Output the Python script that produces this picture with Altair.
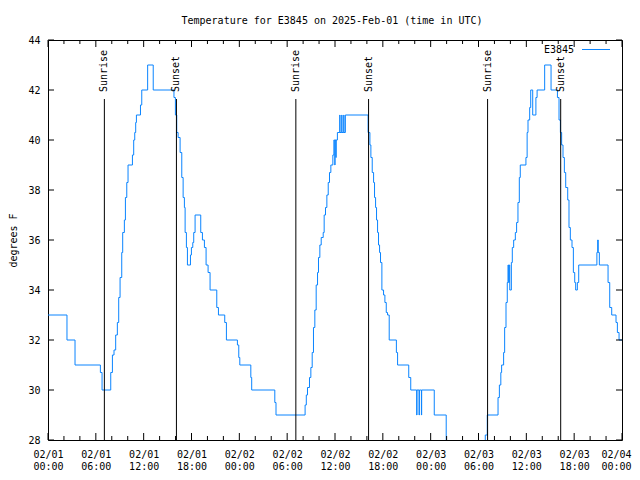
import altair as alt
import pandas as pd

# Temperature trace: hours after 2025-02-01 00:00 UTC and the reading (deg F) from that moment on
hours_day1 = [0.0, 2.38, 3.39, 6.57, 6.78, 7.87, 8.08, 8.28, 8.49, 8.70,
              8.87, 9.04, 9.25, 9.37, 9.58, 9.71, 9.88, 10.04, 10.59, 10.75,
              10.88, 11.00, 11.09, 11.60, 11.76, 12.50, 13.20, 15.80, 15.98, 16.15,
              16.32, 16.57, 16.78, 16.95, 17.11, 17.20, 17.36, 17.49, 17.87, 17.99,
              18.16, 18.28, 18.45, 19.16, 19.37, 19.62, 19.83, 20.08, 20.33, 21.17,
              21.38, 22.17, 22.38, 23.76, 23.93, 24.06, 25.44, 25.55, 28.45, 28.60]
temps_day1 = [33, 32, 31, 30.7, 30, 30.7, 31.4, 31.6, 32.2, 32.7,
              33.7, 34.5, 35.5, 36.3, 36.8, 37.7, 38.3, 39.0, 39.4, 40.0,
              40.3, 40.7, 41.0, 41.4, 42.0, 43.0, 42.0, 41.7, 41.0, 40.3,
              40.1, 39.5, 38.5, 37.7, 37.3, 36.3, 35.7, 35.0, 35.4, 35.7,
              35.9, 36.3, 37.0, 36.3, 36.0, 35.7, 35.0, 34.7, 34.0, 33.3,
              33.0, 32.7, 32.0, 31.8, 31.3, 31.0, 30.5, 30.0, 29.5, 29.0]

hours_day2 = [32.25, 32.40, 32.55, 32.80, 32.97, 33.14, 33.30, 33.47, 33.64, 33.81,
              33.93, 34.10, 34.27, 34.52, 34.64, 34.81, 34.98, 35.15, 35.31, 35.48,
              35.73, 35.86, 35.98, 36.00, 36.12, 36.14, 36.30, 36.60, 36.62, 36.85,
              36.87, 37.10, 37.12, 37.30, 40.15, 40.38, 40.50, 40.67, 40.84, 40.96,
              41.09, 41.21, 41.34, 41.46, 41.59, 41.71, 41.88, 42.09, 42.26, 42.43,
              42.59, 42.80, 43.70, 43.85, 45.25, 45.50, 46.25, 46.28, 46.55, 46.58,
              46.84, 46.87, 48.45, 49.95, 54.85, 55.10]
temps_day2 = [29.4, 29.8, 30.1, 30.5, 30.9, 31.5, 32.5, 33.2, 34.2, 34.7,
              35.3, 35.8, 36.1, 36.3, 37.0, 37.3, 37.8, 38.3, 38.7, 39.0,
              39.4, 40.0, 39.0, 40.0, 39.3, 40.0, 40.3, 41.0, 40.3, 41.0,
              40.3, 41.0, 40.3, 41.0, 40.3, 39.8, 39.3, 38.7, 38.3, 37.7,
              37.3, 36.8, 36.3, 35.8, 35.5, 35.1, 34.0, 33.8, 33.5, 33.1,
              33.0, 32.0, 31.5, 31.0, 30.5, 30.0, 29.0, 30.0, 29.0, 30.0,
              29.0, 30.0, 29.0, 27.5, 28.2, 29.0]

hours_day3 = [56.45, 56.62, 56.80, 56.90, 57.15, 57.28, 57.45, 57.61, 57.70, 57.78,
              57.85, 57.92, 58.12, 58.24, 58.41, 58.62, 58.78, 58.95, 59.12, 59.24,
              59.95, 60.10, 60.21, 60.42, 60.55, 60.80, 61.20, 61.35, 62.30, 63.10,
              63.90, 64.10, 64.27, 64.43, 64.60, 64.77, 64.94, 65.19, 65.35, 65.52,
              65.73, 65.90, 66.07, 66.19, 66.40, 66.57, 68.85, 68.95, 69.02, 69.16,
              70.25, 70.46, 70.71, 71.25, 71.42, 71.63, 72.00]
temps_day3 = [29.7, 30.2, 30.7, 31.0, 31.5, 32.5, 33.5, 34.3, 35.0, 34.3,
              35.0, 34.0, 35.1, 35.7, 36.0, 36.3, 36.7, 37.5, 38.5, 39.0,
              39.3, 40.3, 40.8, 41.3, 42.0, 41.0, 41.7, 42.0, 43.0, 42.0,
              41.7, 40.8, 40.3, 39.8, 39.3, 38.7, 38.1, 37.6, 36.5, 36.0,
              35.7, 34.7, 34.3, 34.0, 34.3, 35.0, 35.5, 36.0, 35.5, 35.0,
              34.3, 33.3, 33.0, 32.7, 32.3, 32.0, 32.0]

assert len(hours_day1) == len(temps_day1)
assert len(hours_day2) == len(temps_day2)
assert len(hours_day3) == len(temps_day3)

sun_hours = [7.07, 16.11, 31.09, 40.21, 55.14, 64.31]
sun_labels = ["Sunrise", "Sunset", "Sunrise", "Sunset", "Sunrise", "Sunset"]

x_major = list(range(0, 73, 6))
x_minor = [h for h in range(0, 73, 2) if h % 6]
y_major = list(range(28, 45, 2))

series_name = "E3845"
title_text = "Temperature for E3845 on 2025-Feb-01 (time in UTC)"

W, H = 574, 400
FONT = "DejaVu Sans Mono"
FS = 10
BLUE = "#0a84ff"
MAJ, MIN, YT = 7, 4, 6

line_df = pd.DataFrame({"h": hours_day1 + hours_day2 + hours_day3,
                        "t": temps_day1 + temps_day2 + temps_day3})
sun_df = pd.DataFrame({"h": sun_hours, "label": sun_labels})
xmaj_df = pd.DataFrame({"h": x_major})
xmin_df = pd.DataFrame({"h": x_minor})
ymaj_df = pd.DataFrame({"t": y_major})
leg_df = pd.DataFrame({"label": [series_name]})
title_df = pd.DataFrame({"label": [title_text]})

xs = alt.Scale(domain=[0, 72], nice=False, zero=False)
ys = alt.Scale(domain=[28, 44], nice=False, zero=False)

x_axis = alt.Axis(
    values=x_major,
    labelExpr="['02/0' + (floor(datum.value / 24) + 1), (datum.value % 24 < 10 ? '0' : '') + (datum.value % 24) + ':00']",
    ticks=False, tickSize=0, domain=False, grid=False, title=None,
    labelFont=FONT, labelFontSize=FS, labelColor="black", labelPadding=9,
    labelLineHeight=12, labelBaseline="top", labelFlush=False, labelOverlap=False,
    labelOffset={"condition": {"test": "datum.value == 72", "value": -6}, "value": 0},
)
y_axis = alt.Axis(
    values=y_major, ticks=False, tickSize=0, domain=False, grid=False,
    labelFont=FONT, labelFontSize=FS, labelColor="black", labelPadding=8,
    title="degrees F", titleFont=FONT, titleFontSize=FS, titleFontWeight="normal",
    titleColor="black", titleAngle=270, titleX=-35, titleY=200,
    titleAlign="center", titleBaseline="middle",
)

X = alt.X("h:Q", scale=xs)
Y = alt.Y("t:Q", scale=ys)

bottom_major = alt.Chart(xmaj_df).mark_rule(color="black", strokeWidth=1).encode(
    x=X, y=alt.value(H), y2=alt.value(H - MAJ))
top_major = alt.Chart(xmaj_df).mark_rule(color="black", strokeWidth=1).encode(
    x=X, y=alt.value(0), y2=alt.value(MAJ))
bottom_minor = alt.Chart(xmin_df).mark_rule(color="black", strokeWidth=1).encode(
    x=X, y=alt.value(H), y2=alt.value(H - MIN))
top_minor = alt.Chart(xmin_df).mark_rule(color="black", strokeWidth=1).encode(
    x=X, y=alt.value(0), y2=alt.value(MIN))
left_ticks = alt.Chart(ymaj_df).mark_rule(color="black", strokeWidth=1).encode(
    y=Y, x=alt.value(0), x2=alt.value(YT))
right_ticks = alt.Chart(ymaj_df).mark_rule(color="black", strokeWidth=1).encode(
    y=Y, x=alt.value(W), x2=alt.value(W - YT))

sun_rules = alt.Chart(sun_df).mark_rule(color="black", strokeWidth=1).encode(
    x=X, y=alt.value(59), y2=alt.value(H))
sun_text = alt.Chart(sun_df).mark_text(
    angle=270, align="left", baseline="middle", font=FONT, fontSize=FS, color="black"
).encode(x=X, y=alt.value(52), text="label:N")

leg_text = alt.Chart(leg_df).mark_text(
    align="right", baseline="middle", font=FONT, fontSize=FS, color="black"
).encode(x=alt.value(526), y=alt.value(9.5), text="label:N")
leg_line = alt.Chart(leg_df).mark_rule(color=BLUE, strokeWidth=1).encode(
    x=alt.value(534), x2=alt.value(562), y=alt.value(9.5))

title_mark = alt.Chart(title_df).mark_text(
    align="center", baseline="alphabetic", font=FONT, fontSize=FS, color="black"
).encode(x=alt.value(284), y=alt.value(-16), text="label:N")

temp_line = alt.Chart(line_df).mark_line(
    interpolate="step-after", clip=True, color=BLUE, strokeWidth=1
).encode(x=alt.X("h:Q", scale=xs, axis=x_axis), y=alt.Y("t:Q", scale=ys, axis=y_axis))

chart = alt.layer(
    temp_line, bottom_major, top_major, bottom_minor, top_minor, left_ticks, right_ticks,
    sun_rules, sun_text, leg_text, leg_line, title_mark,
).properties(
    width=W, height=H,
    autosize=alt.AutoSizeParams(type="none"),
    padding={"left": 40, "top": 32, "right": 10, "bottom": 32},
    background="white",
).configure_view(stroke="black", strokeWidth=1)

chart.save("out.html", embed_options={"renderer": "svg", "actions": False})
